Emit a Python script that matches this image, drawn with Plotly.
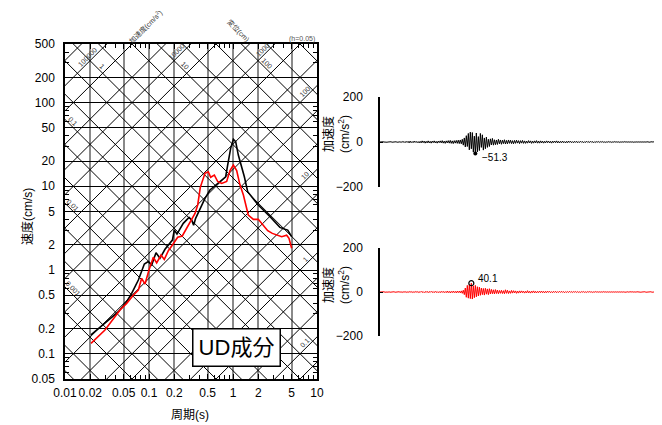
import numpy as np
import plotly.graph_objects as go

# ---------------- data ----------------
# velocity response spectrum (h=0.05): period [s], velocity [cm/s]
period_black = [0.0204, 0.0432, 0.0542, 0.0622, 0.0747, 0.088, 0.098, 0.1076, 0.1212, 0.135,
                0.155, 0.178, 0.19, 0.2002, 0.2154, 0.256, 0.2994, 0.322, 0.340, 0.359,
                0.405, 0.464, 0.532, 0.639, 0.767, 0.818, 0.864, 0.938, 1.01, 1.076,
                1.157, 1.268, 1.365, 1.495, 2.0, 2.76, 3.62, 4.16, 4.48, 4.99]
vel_black = [0.168, 0.318, 0.419, 0.527, 0.76, 1.18, 1.26, 1.15, 1.61, 1.38,
             1.77, 2.08, 2.28, 3.0, 2.69, 3.61, 4.26, 3.96, 3.42, 4.14,
             5.45, 7.18, 9.03, 10.5, 12.1, 13.0, 17.9, 28.4, 36.4, 34.1,
             23.6, 17.2, 13.0, 8.63, 5.98, 4.34, 3.23, 3.06, 3.0, 2.50]

period_red = [0.0204, 0.0299, 0.0452, 0.0542, 0.065, 0.0747, 0.0818, 0.0896, 0.1, 0.1126,
              0.1234, 0.139, 0.152, 0.170, 0.190, 0.2195, 0.249, 0.281, 0.316, 0.353,
              0.380, 0.408, 0.464, 0.508, 0.542, 0.600, 0.657, 0.733, 0.841, 0.921,
              1.01, 1.106, 1.21, 1.33, 1.52, 1.75, 2.0, 2.30, 2.59, 2.94,
              3.40, 3.80, 4.35, 4.64, 4.99]
vel_red = [0.133, 0.192, 0.333, 0.40, 0.50, 0.578, 0.796, 0.68, 1.0, 1.42,
           1.22, 1.51, 1.34, 1.70, 1.99, 2.46, 2.55, 3.15, 3.89, 4.75,
           5.98, 9.72, 14.3, 14.9, 12.8, 13.6, 11.4, 10.8, 11.4, 15.4,
           17.9, 15.4, 10.4, 7.87, 4.54, 4.03, 4.03, 3.45, 2.95, 2.74,
           2.62, 2.50, 2.60, 2.39, 1.82]

x_ticks = [0.01, 0.02, 0.05, 0.1, 0.2, 0.5, 1, 2, 5, 10]
x_tick_labels = ["0.01", "0.02", "0.05", "0.1", "0.2", "0.5", "1", "2", "5", "10"]
y_ticks = [0.05, 0.1, 0.2, 0.5, 1, 2, 5, 10, 20, 50, 100, 200, 500]
y_tick_labels = ["0.05", "0.1", "0.2", "0.5", "1", "2", "5", "10", "20", "50", "100", "200", "500"]
acc_ticks = [-200, 0, 200]
acc_tick_labels = ["\u2212200", "0", "200"]

# tripartite grid values
grid_mantissa = [1, 2, 5]
accel_exponents = list(range(-2, 7))      # cm/s^2
disp_exponents = list(range(-5, 4))       # cm

accel_label_vals = ["100000", "10000", "1000", "100", "10", "1", "0.1"]
disp_label_vals = ["1", "10", "100", "0.1", "0.01", "0.001"]

# acceleration time histories [cm/s^2] (uniform sampling)
acc_black = [
    0, 1, -1, 1, 0, -1, 1, -1, 0, 1, -1, 1, -1, 0, 1, -1, 1, -1, 1, 0,
    1, -2, 2, -1, 2, -3, 3, -2, 3, -4, 4, -3, 2, -3, 4, -2, 3, -3, 2, -4,
    3, -4, 5, -3, 4, -5, 3, -4, 5, -4, 3, -5, 4, -3, 5, -4, 3, -5, 4, -3,
    5, -4, 6, -5, 4, -6, 5, -4, 6, -5, 7, -6, 5, -7, 6, -5, 7, -6, 8, -7,
    9, -8, 12, -14, 18, -22, 28, -20, 38, -35, 44, -30, 42, -45, 26, -51.3, 40, -44, 24, -38,
    38, -24, 32, -36, 18, -30, 22, -24, 12, -20, 14, -13, 16, -14, 10, -12, 9, -11, 12, -8,
    9, -10, 8, -7, 10, -9, 7, -8, 9, -6, 8, -7, 6, -8, 7, -6, 8, -5, 6, -7,
    6, -5, 7, -6, 5, -6, 4, -5, 6, -4, 5, -6, 4, -5, 5, -4, 6, -5, 4, -5,
    5, -4, 4, -5, 3, -4, 5, -3, 4, -4, 3, -5, 4, -3, 4, -3, 5, -4, 3, -4,
    3, -3, 4, -3, 2, -4, 3, -3, 4, -2, 3, -3, 2, -3, 3, -2, 3, -3, 2, -2,
    3, -2, 2, -3, 2, -2, 3, -2, 2, -2, 3, -2, 2, -3, 2, -2, 2, -1, 2, -2,
    2, -1, 2, -2, 1, -2, 1, -1, 2, -1, 1, -2, 1, -1, 2, -1, 1, -1, 1, -2,
    1, -1, 1, -1, 2, -1, 1, -1, 1, -1, 1, -1, 1, -2, 1, -1, 1, -1, 1, -1,
    1, -1, 1, -1, 1, -1, 1, 0, 1, -1, 1, -1, 0, 1, -1, 1, -1, 0, 1, 0,
]
acc_red = [
    0, 1, -1, 0, 1, -1, 1, 0, -1, 1, -1, 0, 1, -1, 1, -1, 0, 1, -1, 1,
    -1, 1, -2, 1, -1, 2, -2, 1, -2, 2, -1, 2, -2, 1, -2, 2, -1, 2, -2, 1,
    -2, 3, -2, 2, -3, 2, -2, 3, -3, 2, -2, 3, -2, 2, -3, 3, -2, 2, -3, 2,
    -3, 3, -2, 3, -3, 2, -3, 4, -3, 3, -4, 3, -3, 4, -3, 3, -4, 4, -3, 4,
    -4, 5, -6, 8, -12, 18, -24, 30, -28, 34, -30, 40.1, -32, 28, -26, 30, -22, 24, -18, 22,
    -15, 18, -12, 16, -14, 17, -10, 14, -12, 15, -9, 12, -8, 10, -9, 11, -7, 9, -8, 7,
    -6, 8, -7, 6, -8, 10, -6, 8, -7, 5, -6, 7, -5, 6, -4, 5, -6, 4, -5, 5,
    -4, 5, -3, 4, -5, 3, -4, 6, -4, 3, -5, 4, -3, 5, -4, 3, -4, 3, -3, 4,
    -3, 4, -3, 3, -4, 3, -3, 4, -2, 3, -3, 2, -3, 3, -2, 3, -3, 2, -2, 3,
    -2, 3, -2, 2, -3, 2, -2, 2, -2, 3, -2, 2, -2, 2, -1, 2, -2, 2, -2, 1,
    -2, 2, -1, 2, -2, 1, -2, 2, -1, 2, -1, 1, -2, 1, -1, 2, -1, 1, -1, 1,
    -1, 1, -1, 2, -1, 1, -1, 1, -1, 1, -1, 1, -1, 1, -1, 1, -1, 1, -1, 1,
    -1, 1, -1, 1, -1, 1, 0, 1, -1, 1, -1, 0, 1, -1, 1, -1, 1, 0, -1, 1,
    -1, 0, 1, -1, 1, -1, 0, 1, -1, 0, 1, -1, 1, 0, -1, 1, 0, -1, 1, 0,
]
dt = 0.5

# ---------------- helpers ----------------
PAGE_OFF = 8                      # default body margin of the html page
W, H = 662 - PAGE_OFF, 425 - PAGE_OFF
FONT = "Liberation Sans, Arial, 'Noto Sans CJK JP', sans-serif"
TWO_PI = 2 * np.pi


def px(x):
    return (x - PAGE_OFF) / W


def py(y):
    return 1 - (y - PAGE_OFF) / H


accel_grid = [m * 10.0 ** e for e in accel_exponents for m in grid_mantissa]
disp_grid = [m * 10.0 ** e for e in disp_exponents for m in grid_mantissa]

fig = go.Figure()

# diagonal lines of the tripartite chart
T_end = [0.005, 20]
gx, gy = [], []
for A in accel_grid:
    gx += T_end + [None]
    gy += [A * t / TWO_PI for t in T_end] + [None]
for D in disp_grid:
    gx += T_end + [None]
    gy += [TWO_PI * D / t for t in T_end] + [None]
fig.add_trace(go.Scatter(x=gx, y=gy, mode="lines", line=dict(color="black", width=1),
                         hoverinfo="skip", showlegend=False, xaxis="x", yaxis="y"))

fig.add_trace(go.Scatter(x=period_black, y=vel_black, mode="lines",
                         line=dict(color="black", width=1.6), showlegend=False,
                         xaxis="x", yaxis="y"))
fig.add_trace(go.Scatter(x=period_red, y=vel_red, mode="lines",
                         line=dict(color="#ff0000", width=1.6), showlegend=False,
                         xaxis="x", yaxis="y"))

# time histories
t_black = np.arange(len(acc_black)) * dt
t_red = np.arange(len(acc_red)) * dt
fig.add_trace(go.Scatter(x=t_black, y=acc_black, mode="lines",
                         line=dict(color="black", width=1), showlegend=False,
                         xaxis="x2", yaxis="y2"))
fig.add_trace(go.Scatter(x=t_red, y=acc_red, mode="lines",
                         line=dict(color="#ff0000", width=1), showlegend=False,
                         xaxis="x3", yaxis="y3"))

ib = int(np.argmax(np.abs(acc_black)))
ir = int(np.argmax(np.abs(acc_red)))
fig.add_trace(go.Scatter(x=[t_black[ib]], y=[acc_black[ib]], mode="markers",
                         marker=dict(color="black", size=4), showlegend=False,
                         xaxis="x2", yaxis="y2"))
fig.add_trace(go.Scatter(x=[t_red[ir]], y=[acc_red[ir]], mode="markers",
                         marker=dict(color="black", size=5, symbol="circle-open",
                                     line=dict(width=1.2)),
                         showlegend=False, xaxis="x3", yaxis="y3"))

annotations = []


def fmt(v):
    s = f"{v:.1f}"
    return s.replace("-", "\u2212")


annotations.append(dict(x=t_black[ib], y=acc_black[ib], xref="x2", yref="y2",
                        text=fmt(acc_black[ib]), showarrow=False, xanchor="left",
                        yanchor="middle", xshift=5, yshift=-4,
                        font=dict(size=10, color="black", family=FONT)))
annotations.append(dict(x=t_red[ir], y=acc_red[ir], xref="x3", yref="y3",
                        text=fmt(acc_red[ir]), showarrow=False, xanchor="left",
                        yanchor="middle", xshift=5, yshift=5,
                        font=dict(size=10, color="black", family=FONT)))

# labels of diagonal lines
accel_label_T = [0.0183, 0.215, 2.28, 7.2, 7.2, 7.2, 7.2]
disp_label_T = [0.0276, 0.268, 2.54, 0.01245, 0.01245, 0.01245]
for lab, T in zip(accel_label_vals, accel_label_T):
    v = float(lab) * T / TWO_PI
    annotations.append(dict(x=np.log10(T), y=np.log10(v), xref="x", yref="y", text=lab,
                            showarrow=False, textangle=-45, yshift=6,
                            xanchor="center", yanchor="middle",
                            font=dict(size=7, color="#333333", family=FONT)))
for lab, T in zip(disp_label_vals, disp_label_T):
    v = TWO_PI * float(lab) / T
    annotations.append(dict(x=np.log10(T), y=np.log10(v), xref="x", yref="y", text=lab,
                            showarrow=False, textangle=45, yshift=6,
                            xanchor="center", yanchor="middle",
                            font=dict(size=7, color="#333333", family=FONT)))


def paper_text(x, y, text, size, angle=0, color="black", **kw):
    d = dict(x=px(x), y=py(y), xref="paper", yref="paper", text=text, showarrow=False,
             textangle=angle, xanchor="center", yanchor="middle",
             font=dict(size=size, color=color, family=FONT))
    d.update(kw)
    return d


annotations += [
    paper_text(145, 27, "加速度(cm/s<sup>2</sup>)", 7, -45, "#333333"),
    paper_text(238, 31, "変位(cm)", 7, 45, "#333333"),
    paper_text(302, 39, "(h=0.05)", 7, 0, "#555555"),
    paper_text(28, 217, "速度(cm/s)", 12, -90),
    paper_text(190, 415, "周期(s)", 12),
    paper_text(236, 347, "UD成分", 22, bgcolor="white", bordercolor="black",
               borderwidth=1.5, borderpad=1, width=84, height=34),
    paper_text(337, 134, "加速度<br>(cm/s<sup>2</sup>)", 12, -90),
    paper_text(337, 285, "加速度<br>(cm/s<sup>2</sup>)", 12, -90),
]


def minor_vals(lo, hi):
    out = []
    for e in range(-3, 4):
        for m in (3, 4, 6, 7, 8, 9):
            v = m * 10.0 ** e
            if lo < v < hi:
                out.append(v)
    return out


common_log = dict(type="log", showline=True, linecolor="black", linewidth=1.5,
                  mirror="ticks", ticks="inside", ticklen=5, tickcolor="black",
                  zeroline=False, automargin=False, tickangle=0,
                  tickfont=dict(size=12, color="black", family=FONT))

acc_axis = dict(range=[-200, 200], tickmode="array", tickvals=acc_ticks,
                ticktext=acc_tick_labels, ticks="inside", ticklen=3, tickcolor="black",
                showline=True, linecolor="black", linewidth=1.5, showgrid=False,
                zeroline=False, ticklabelstandoff=13, automargin=False,
                tickfont=dict(size=12, color="black", family=FONT))

fig.update_layout(
    template="none",
    width=W, height=H, autosize=False,
    margin=dict(l=0, r=0, t=0, b=0, pad=0, autoexpand=False),
    paper_bgcolor="white", plot_bgcolor="white",
    font=dict(family=FONT, color="black"),
    showlegend=False,
    xaxis=dict(common_log, range=[-2, 1], domain=[px(65), px(317)], anchor="y",
               tickmode="array", tickvals=x_ticks, ticktext=x_tick_labels,
               showgrid=True, gridcolor="#8a8a8a", gridwidth=1.8,
               ticklabelstandoff=2,
               minor=dict(tickvals=minor_vals(0.01, 10), ticks="inside", ticklen=4,
                          tickcolor="black", showgrid=False)),
    yaxis=dict(common_log, range=[np.log10(0.05), np.log10(500)],
               domain=[py(379), py(44)], anchor="x",
               tickmode="array", tickvals=y_ticks, ticktext=y_tick_labels,
               showgrid=True, gridcolor="black", gridwidth=1.2,
               ticklabelstandoff=6,
               minor=dict(tickvals=minor_vals(0.05, 500), ticks="inside", ticklen=4,
                          tickcolor="black", showgrid=False)),
    xaxis2=dict(domain=[px(380), px(660)], anchor="y2", automargin=False,
                range=[0, (len(acc_black) - 1) * dt], visible=False),
    yaxis2=dict(acc_axis, domain=[py(187), py(97)], anchor="x2"),
    xaxis3=dict(domain=[px(380), px(660)], anchor="y3", automargin=False,
                range=[0, (len(acc_red) - 1) * dt], visible=False),
    yaxis3=dict(acc_axis, domain=[py(336), py(248)], anchor="x3"),
    annotations=annotations,
)

fig.write_html("out.html")
